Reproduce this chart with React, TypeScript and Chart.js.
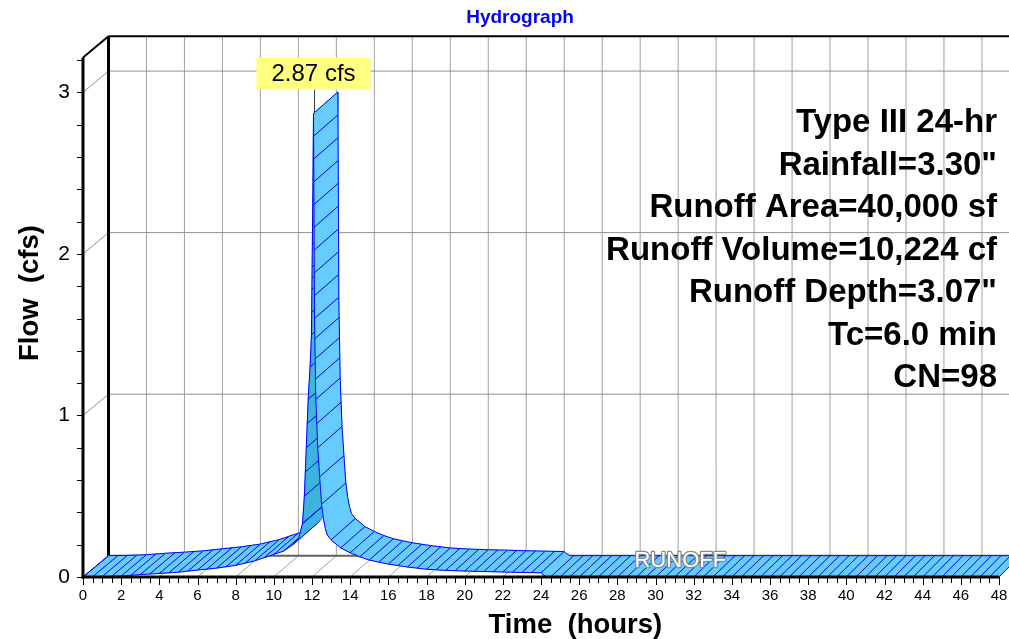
import React, { useEffect, useRef } from "react";
import { Chart, registerables } from "chart.js";

Chart.register(...registerables);

// ---------------- data ----------------
const chartTitle = "Hydrograph";
const seriesName = "RUNOFF";
const xAxisTitle = "Time  (hours)";
const yAxisTitle = "Flow  (cfs)";
const peakLabel = "2.87 cfs";

const timeHours = [
  0, 1, 2, 3, 4, 5, 6, 7, 8, 9, 10, 10.5, 11, 11.3, 11.5, 11.6, 11.7, 11.8, 11.9,
  11.97, 12.03, 12.08, 12.13, 12.2, 12.3, 12.4, 12.5, 12.6, 12.7, 12.8, 13.0, 13.5,
  14.0, 14.5, 15.0, 15.5, 16, 17, 18, 19, 20, 21, 22, 23, 24, 24.1, 24.3, 48,
];
const flowCfs = [
  0, 0.002, 0.006, 0.015, 0.022, 0.03, 0.043, 0.055, 0.072, 0.1, 0.14, 0.16, 0.2,
  0.24, 0.33, 0.5, 0.8, 1.1, 1.3, 1.5, 2.2, 2.87, 1.6, 1.1, 0.8, 0.62, 0.45, 0.36,
  0.3, 0.26, 0.23, 0.18, 0.15, 0.125, 0.105, 0.092, 0.08, 0.062, 0.048, 0.041,
  0.037, 0.034, 0.031, 0.028, 0.026, 0.015, 0, 0,
];

const infoLines = [
  "Type III 24-hr",
  'Rainfall=3.30"',
  "Runoff Area=40,000 sf",
  "Runoff Volume=10,224 cf",
  'Runoff Depth=3.07"',
  "Tc=6.0 min",
  "CN=98",
];

const xMin = 0;
const xMax = 48;
const xMajorStep = 2;
const xMinorStep = 0.5;
const yMin = 0;
const yMax = 3.216;
const yMajorStep = 1;
const yMinorStep = 0.2;
const runoffLabelAt = 31.3;

// ---------------- style ----------------
const FONT = '"Liberation Sans", Arial, Helvetica, sans-serif';
const DEPTH_DX = 25.5;
const DEPTH_DY = -21.3;
const DEPTH_KX = 0.995;
const FILL_TOP = "rgb(102,204,255)";
const FILL_UNDER = "rgb(60,180,222)";
const EDGE = "rgb(0,0,255)";
const HATCH = "rgb(0,0,225)";
const GRID = "#a0a0a0";

type Pt = [number, number];

function projector(chart: any) {
  const xs = chart.scales.x;
  const ys = chart.scales.y;
  const x0 = xs.getPixelForValue(xMin);
  return (t: number, v: number, z: number): Pt => {
    const xf = xs.getPixelForValue(t);
    const yf = ys.getPixelForValue(v);
    const dx = DEPTH_DX - (xf - x0) * (1 - DEPTH_KX);
    return [xf + z * dx, yf + z * DEPTH_DY];
  };
}

function seg(ctx: CanvasRenderingContext2D, a: Pt, b: Pt) {
  ctx.beginPath();
  ctx.moveTo(a[0], a[1]);
  ctx.lineTo(b[0], b[1]);
  ctx.stroke();
}

const hydroPlugin = {
  id: "hydro3d",
  beforeDatasetsDraw(chart: any) {
    const ctx: CanvasRenderingContext2D = chart.ctx;
    const P = projector(chart);
    ctx.save();
    ctx.lineCap = "butt";

    // back wall vertical grid
    ctx.strokeStyle = GRID;
    ctx.lineWidth = 1;
    for (let k = 1; k * xMajorStep <= xMax; k++) {
      const t = k * xMajorStep;
      seg(ctx, P(t, yMin, 1), P(t, yMax, 1));
    }
    // back wall horizontal grid + left wall diagonals
    ctx.strokeStyle = "#909090";
    for (let k = 1; k * yMajorStep <= yMax; k++) {
      const v = k * yMajorStep;
      seg(ctx, P(xMin, v, 1), P(xMax, v, 1));
      seg(ctx, P(xMin, v, 0), P(xMin, v, 1));
    }
    // floor diagonals
    ctx.strokeStyle = GRID;
    for (let k = 1; k * xMajorStep <= xMax; k++) {
      const t = k * xMajorStep;
      seg(ctx, P(t, yMin, 0), P(t, yMin, 1));
    }
    // floor back edge
    ctx.strokeStyle = "#606060";
    ctx.lineWidth = 2;
    seg(ctx, P(xMin, yMin, 1), P(xMax, yMin, 1));
    // back wall frame
    ctx.strokeStyle = "#000";
    ctx.lineWidth = 3;
    seg(ctx, P(xMin, yMin, 1), P(xMin, yMax, 1));
    ctx.lineWidth = 2;
    seg(ctx, P(xMin, yMax, 1), P(xMax, yMax, 1));
    seg(ctx, P(xMin, yMax, 0), P(xMin, yMax, 1));

    // ribbon
    const n = timeHours.length;
    const F = timeHours.map((t, i) => P(t, flowCfs[i], 0));
    const B = timeHours.map((t, i) => P(t, flowCfs[i], 1));
    for (let i = 0; i < n - 1; i++) {
      const f0 = F[i], f1 = F[i + 1], b0 = B[i], b1 = B[i + 1];
      const sx = f1[0] - f0[0];
      const sy = f1[1] - f0[1];
      const cross = sx * DEPTH_DY - sy * DEPTH_DX;
      const col = cross > 0 ? FILL_UNDER : FILL_TOP;
      ctx.beginPath();
      ctx.moveTo(f0[0], f0[1]);
      ctx.lineTo(f1[0], f1[1]);
      ctx.lineTo(b1[0], b1[1]);
      ctx.lineTo(b0[0], b0[1]);
      ctx.closePath();
      ctx.fillStyle = col;
      ctx.fill();
      ctx.strokeStyle = col;
      ctx.lineWidth = 0.8;
      ctx.stroke();

      // hatch (depth) lines
      const t0 = timeHours[i], t1 = timeHours[i + 1];
      const us: number[] = [];
      const m0 = Math.ceil(t0 / xMinorStep - 1e-9);
      for (let m = m0; m * xMinorStep < t1 - 1e-9; m++) {
        us.push((m * xMinorStep - t0) / (t1 - t0));
      }
      const dyPix = Math.abs(sy);
      if (dyPix > 22) {
        const k = Math.round(dyPix / 22);
        for (let j = 0; j < k; j++) us.push(j / k);
      }
      ctx.strokeStyle = HATCH;
      ctx.lineWidth = 1;
      for (const u of us) {
        const a: Pt = [f0[0] + u * sx, f0[1] + u * sy];
        const b: Pt = [b0[0] + u * (b1[0] - b0[0]), b0[1] + u * (b1[1] - b0[1])];
        seg(ctx, a, b);
      }
      // back edge
      ctx.strokeStyle = EDGE;
      seg(ctx, b0, b1);
    }
    ctx.strokeStyle = EDGE;
    seg(ctx, F[0], B[0]);
    seg(ctx, F[n - 1], B[n - 1]);
    ctx.restore();
  },
  afterDatasetsDraw(chart: any) {
    const ctx: CanvasRenderingContext2D = chart.ctx;
    const P = projector(chart);
    const xs = chart.scales.x;
    const area = chart.chartArea;
    ctx.save();

    // front axes with minor ticks
    const o = P(xMin, yMin, 0);
    ctx.strokeStyle = "#000";
    ctx.lineWidth = 1;
    for (let k = 0; k * xMinorStep <= xMax + 1e-9; k++) {
      const t = k * xMinorStep;
      const p = P(t, yMin, 0);
      const major = Math.abs(t / xMajorStep - Math.round(t / xMajorStep)) < 1e-9;
      seg(ctx, [Math.round(p[0]) + 0.5, p[1]], [Math.round(p[0]) + 0.5, p[1] + (major ? 8 : 6)]);
    }
    for (let k = 0; k * yMinorStep <= yMax + 1e-9; k++) {
      const v = k * yMinorStep;
      const p = P(xMin, v, 0);
      seg(ctx, [p[0] - 6, Math.round(p[1]) + 0.5], [p[0], Math.round(p[1]) + 0.5]);
    }
    ctx.lineWidth = 3;
    seg(ctx, [o[0] - 1.5, o[1]], P(xMax, yMin, 0));
    seg(ctx, [o[0], o[1] + 1.5], P(xMin, yMax, 0));

    // RUNOFF label
    ctx.font = `22px ${FONT}`;
    ctx.textAlign = "center";
    ctx.textBaseline = "middle";
    const rp = P(runoffLabelAt, yMin, 0);
    ctx.lineWidth = 2.5;
    ctx.strokeStyle = "#8a8a8a";
    ctx.lineJoin = "round";
    ctx.strokeText(seriesName, rp[0], rp[1] - 16);
    ctx.fillStyle = "#fff";
    ctx.fillText(seriesName, rp[0], rp[1] - 16);

    // peak label
    let pk = 0;
    flowCfs.forEach((v, i) => {
      if (v > flowCfs[pk]) pk = i;
    });
    const pp = P(timeHours[pk], flowCfs[pk], 0);
    ctx.font = `24px ${FONT}`;
    const tw = ctx.measureText(peakLabel).width;
    const bw = tw + 30;
    const bh = 32;
    const bx = pp[0] - bw / 2;
    const by = area.top;
    ctx.strokeStyle = "#404040";
    ctx.lineWidth = 1;
    seg(ctx, [Math.round(pp[0]) + 0.5, by + bh], [Math.round(pp[0]) + 0.5, pp[1]]);
    ctx.fillStyle = "rgb(255,255,128)";
    ctx.fillRect(bx, by, bw, bh);
    ctx.fillStyle = "#000";
    ctx.textAlign = "center";
    ctx.textBaseline = "middle";
    ctx.fillText(peakLabel, pp[0], by + bh / 2 + 1);

    // info block
    ctx.font = `bold 33px ${FONT}`;
    ctx.textAlign = "right";
    ctx.textBaseline = "alphabetic";
    infoLines.forEach((s, i) => {
      ctx.fillText(s, area.right - 2, 132 + i * 42.5);
    });

    // axis titles
    ctx.font = `bold 27.5px ${FONT}`;
    ctx.textAlign = "center";
    ctx.textBaseline = "middle";
    ctx.fillText(xAxisTitle, xs.getPixelForValue(25.8), 625);
    ctx.save();
    ctx.translate(30, 293);
    ctx.rotate(-Math.PI / 2);
    ctx.fillText(yAxisTitle, 0, 0);
    ctx.restore();

    // chart title
    ctx.font = `bold 19px ${FONT}`;
    ctx.fillStyle = "rgb(0,0,255)";
    ctx.textAlign = "center";
    ctx.textBaseline = "middle";
    ctx.fillText(chartTitle, xs.getPixelForValue(22.9), 18);

    ctx.restore();
  },
};

export default function App() {
  const ref = useRef<HTMLCanvasElement | null>(null);
  useEffect(() => {
    if (!ref.current) return;
    const chart = new Chart(ref.current, {
      type: "line",
      data: {
        datasets: [
          {
            label: seriesName,
            data: timeHours.map((t, i) => ({ x: t, y: flowCfs[i] })),
            borderColor: EDGE,
            borderWidth: 1,
            pointRadius: 0,
            tension: 0,
            fill: false,
            clip: 20,
          },
        ],
      },
      options: {
        animation: false,
        responsive: false,
        maintainAspectRatio: false,
        devicePixelRatio: 1,
        layout: { padding: { left: 0, right: 10, top: 57.5, bottom: 0 } },
        plugins: {
          legend: { display: false },
          tooltip: { enabled: false },
          title: { display: false },
        },
        scales: {
          x: {
            type: "linear",
            position: "bottom",
            min: xMin,
            max: xMax,
            grid: { display: false, drawTicks: false },
            border: { display: false },
            ticks: {
              stepSize: xMajorStep,
              color: "#000",
              font: { family: FONT, size: 15 },
              padding: 10,
              maxRotation: 0,
              autoSkip: false,
              includeBounds: false,
            },
            afterFit: (s: any) => {
              s.height = 62;
              s.paddingLeft = 0;
              s.paddingRight = 0;
            },
          },
          y: {
            type: "linear",
            position: "left",
            min: yMin,
            max: yMax,
            grid: { display: false, drawTicks: false },
            border: { display: false },
            ticks: {
              stepSize: yMajorStep,
              color: "#000",
              font: { family: FONT, size: 21 },
              padding: 13,
              includeBounds: false,
              callback: (v: any) => String(Math.round(Number(v))),
            },
            afterFit: (s: any) => {
              s.width = 83;
              s.paddingTop = 0;
              s.paddingBottom = 0;
            },
          },
        },
      } as any,
      plugins: [hydroPlugin],
    });
    return () => chart.destroy();
  }, []);
  return (
    <div style={{ position: "absolute", left: 0, top: 0, width: 1009, height: 639, background: "#fff" }}>
      <canvas ref={ref} width={1009} height={639} />
    </div>
  );
}
